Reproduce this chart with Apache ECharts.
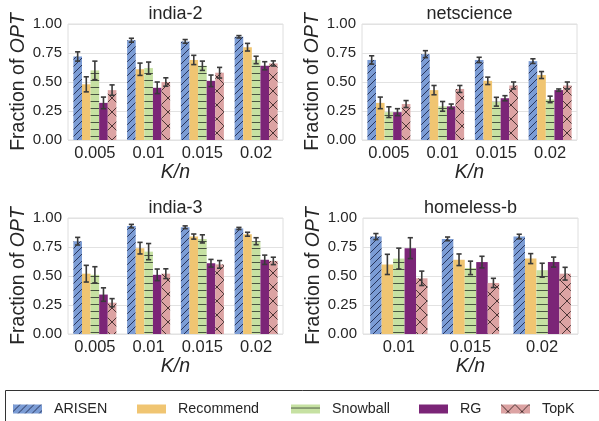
<!DOCTYPE html>
<html><head><meta charset="utf-8">
<script src="https://cdn.jsdelivr.net/npm/echarts@6/dist/echarts.min.js"></script>
<style>html,body{margin:0;padding:0;background:#fff}#c{width:599px;height:421px}</style>
</head><body><div id="c"></div>
<script>
const methods = ['ARISEN','Recommend','Snowball','RG','TopK'];
const kCats4 = ['0.005','0.01','0.015','0.02'];
const kCats3 = ['0.01','0.015','0.02'];
const yTickValues = [0, 0.25, 0.5, 0.75, 1.0];
const panelTitles = ['india-2','netscience','india-3','homeless-b'];

// rows: ARISEN, Recommend, Snowball, RG, TopK
const india2Mean = [
  [0.72,0.86,0.85,0.89],
  [0.48,0.61,0.69,0.80],
  [0.60,0.62,0.64,0.69],
  [0.32,0.45,0.51,0.64],
  [0.43,0.50,0.58,0.66]];
const india2Err = [
  [0.04,0.017,0.016,0.01],
  [0.065,0.053,0.04,0.033],
  [0.08,0.052,0.04,0.032],
  [0.05,0.05,0.05,0.035],
  [0.045,0.036,0.046,0.022]];
const netMean = [
  [0.69,0.74,0.69,0.68],
  [0.32,0.43,0.51,0.56],
  [0.24,0.29,0.33,0.35],
  [0.24,0.29,0.36,0.43],
  [0.31,0.44,0.47,0.47]];
const netErr = [
  [0.036,0.03,0.023,0.02],
  [0.05,0.04,0.032,0.03],
  [0.046,0.042,0.038,0.028],
  [0.03,0.02,0.022,0.01],
  [0.03,0.03,0.03,0.03]];
const india3Mean = [
  [0.80,0.93,0.92,0.91],
  [0.52,0.74,0.84,0.86],
  [0.51,0.71,0.82,0.80],
  [0.34,0.51,0.61,0.64],
  [0.27,0.52,0.60,0.63]];
const india3Err = [
  [0.033,0.015,0.012,0.009],
  [0.072,0.05,0.022,0.017],
  [0.07,0.07,0.035,0.03],
  [0.058,0.05,0.033,0.04],
  [0.035,0.042,0.033,0.032]];
const homelessMean = [
  [0.84,0.82,0.84],
  [0.60,0.64,0.65],
  [0.65,0.57,0.55],
  [0.74,0.62,0.62],
  [0.48,0.44,0.52]];
const homelessErr = [
  [0.026,0.016,0.02],
  [0.087,0.05,0.043],
  [0.09,0.058,0.06],
  [0.09,0.05,0.043],
  [0.062,0.04,0.055]];

const FONT = "'Liberation Sans', Arial, sans-serif";
const TXT = '#262626';

function tile(size, bg, draw) {
  const c = document.createElement('canvas');
  c.width = size[0]; c.height = size[1];
  const g = c.getContext('2d');
  g.fillStyle = bg; g.fillRect(0,0,size[0],size[1]);
  g.lineWidth = 1;
  draw(g, size[0], size[1]);
  return c;
}
const patARISEN = tile([7,7], '#7b9cd5', (g,w,h)=>{
  g.strokeStyle = 'rgba(25,35,70,0.85)';
  for (const x0 of [-w,0,w]) { g.beginPath(); g.moveTo(x0,h); g.lineTo(x0+w,0); g.stroke(); }
});
const patSnow = tile([8,7], '#c6e1a2', (g,w,h)=>{
  g.strokeStyle = 'rgba(40,50,40,0.8)';
  g.beginPath(); g.moveTo(0,3.5); g.lineTo(w,3.5); g.stroke();
});
const patTopK = tile([14,14], '#dca3a3', (g,w,h)=>{
  g.strokeStyle = 'rgba(40,25,25,0.8)';
  for (const x0 of [-w,0,w]) {
    g.beginPath(); g.moveTo(x0,h); g.lineTo(x0+w,0); g.stroke();
    g.beginPath(); g.moveTo(x0,0); g.lineTo(x0+w,h); g.stroke();
  }
});
const fills = [
  {image: patARISEN, repeat: 'repeat'},
  '#f0c572',
  {image: patSnow, repeat: 'repeat'},
  '#7b2577',
  {image: patTopK, repeat: 'repeat'}
];

const panels = [
  {cats: kCats4, mean: india2Mean, err: india2Err, grid: {left:68, top:24, width:215, height:116}},
  {cats: kCats4, mean: netMean, err: netErr, grid: {left:362, top:24, width:215, height:116}},
  {cats: kCats4, mean: india3Mean, err: india3Err, grid: {left:68, top:218, width:215, height:116}},
  {cats: kCats3, mean: homelessMean, err: homelessErr, grid: {left:363, top:218, width:215, height:116}}
];

const grids = [], xAxes = [], yAxes = [], series = [], graphics = [];
panels.forEach((p, gi) => {
  grids.push(Object.assign({show: true, borderColor: '#dedede', borderWidth: 1, backgroundColor: 'transparent'}, p.grid));
  xAxes.push({
    type: 'category', gridIndex: gi, data: p.cats,
    axisLine: {show: false}, axisTick: {show: false},
    axisLabel: {color: TXT, fontFamily: FONT, fontSize: 16.5, margin: 5},
    name: 'K/n', nameLocation: 'middle', nameGap: 20,
    nameTextStyle: {color: TXT, fontFamily: FONT, fontSize: 19.5, fontStyle: 'italic'}
  });
  yAxes.push({
    type: 'value', gridIndex: gi, min: 0, max: 1, interval: 0.25,
    axisLine: {show: false}, axisTick: {show: false},
    splitLine: {lineStyle: {color: '#e2e2e2', width: 1}},
    axisLabel: {color: TXT, fontFamily: FONT, fontSize: 15, margin: 6,
      formatter: v => yTickValues.indexOf(v) >= 0 ? v.toFixed(2) : ''},
    name: '{a|Fraction of }{b|OPT}', nameLocation: 'middle', nameGap: 38,
    nameTextStyle: {rich: {
      a: {color: TXT, fontFamily: FONT, fontSize: 19.5},
      b: {color: TXT, fontFamily: FONT, fontSize: 19.5, fontStyle: 'italic'}
    }}
  });
  methods.forEach((m, k) => {
    series.push({
      type: 'bar', name: m, xAxisIndex: gi, yAxisIndex: gi,
      data: p.mean[k], barGap: '0%', barCategoryGap: '20%',
      itemStyle: {color: fills[k]}, z: 2
    });
  });
  methods.forEach((m, k) => {
    series.push({
      type: 'custom', name: 'err-' + m, xAxisIndex: gi, yAxisIndex: gi, z: 10,
      encode: {x: 0, y: [1, 2]},
      data: p.mean[k].map((v, i) => [i, v - p.err[k][i], v + p.err[k][i]]),
      renderItem: (params, api) => {
        const band = api.size([1, 0])[0];
        const groupW = band * 0.8, bw = groupW / 5;
        const lo = api.coord([api.value(0), api.value(1)]);
        const hi = api.coord([api.value(0), api.value(2)]);
        const x = lo[0] - groupW / 2 + bw * (k + 0.5);
        const st = {stroke: '#3a3a3a', lineWidth: 1.6};
        const cw = 2.6;
        return {type: 'group', children: [
          {type: 'line', shape: {x1: x, y1: lo[1], x2: x, y2: hi[1]}, style: st},
          {type: 'line', shape: {x1: x - cw, y1: lo[1], x2: x + cw, y2: lo[1]}, style: st},
          {type: 'line', shape: {x1: x - cw, y1: hi[1], x2: x + cw, y2: hi[1]}, style: st}
        ]};
      }
    });
  });
  graphics.push({
    type: 'text', x: p.grid.left + p.grid.width / 2, y: p.grid.top - 10,
    style: {text: panelTitles[gi], fill: TXT, font: "18px 'Liberation Sans', Arial, sans-serif",
      align: 'center', verticalAlign: 'middle'}
  });
});

graphics.push({
  type: 'rect', shape: {x: 5.5, y: 390.5, width: 640, height: 60},
  style: {fill: 'none', stroke: '#333', lineWidth: 1}, z: -1
});

const legendLefts = [13, 137, 291, 419, 501];
const legends = methods.map((m, k) => ({
  data: [m], left: legendLefts[k], top: 402, padding: 0,
  icon: 'rect', itemWidth: 29, itemHeight: 9, selectedMode: false,
  textStyle: {color: TXT, fontFamily: FONT, fontSize: 14.3, padding: [0, 0, 0, 7]}
}));

const chart = echarts.init(document.getElementById('c'), null, {renderer: 'canvas'});
chart.setOption({
  animation: false,
  backgroundColor: '#fff',
  grid: grids, xAxis: xAxes, yAxis: yAxes, series: series,
  legend: legends, graphic: graphics
});
</script></body></html>
